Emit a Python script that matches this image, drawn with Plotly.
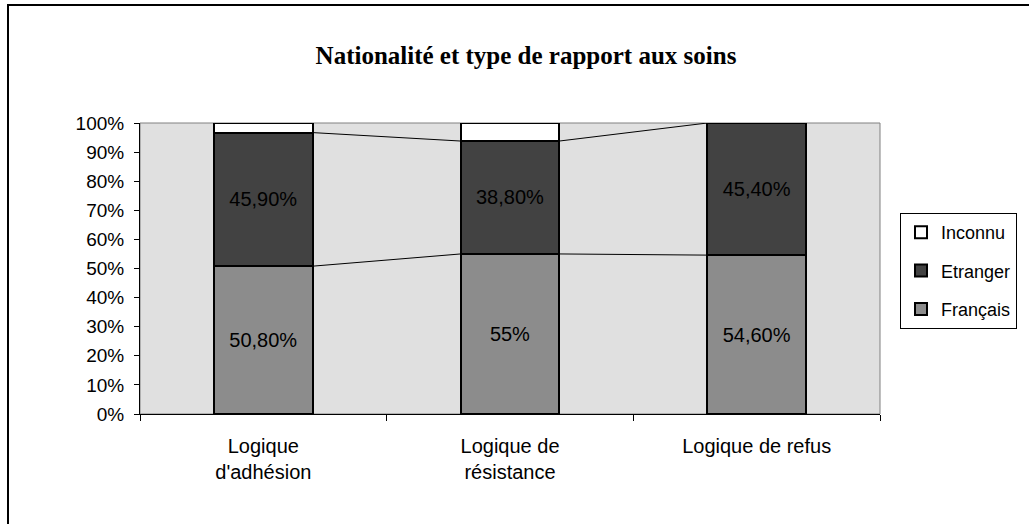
import plotly.graph_objects as go

categories = ["Logique<br>d'adhésion", "Logique de<br>résistance", "Logique de refus"]
francais = [50.8, 55.0, 54.6]
etranger = [45.9, 38.8, 45.4]
inconnu = [3.3, 6.2, 0.0]
francais_labels = ["50,80%", "55%", "54,60%"]
etranger_labels = ["45,90%", "38,80%", "45,40%"]
y_ticks = [0, 10, 20, 30, 40, 50, 60, 70, 80, 90, 100]

title = "Nationalité et type de rapport aux soins"

x = list(range(len(categories)))
BAR_W = 0.4
SANS = "Liberation Sans, Arial, sans-serif"

fig = go.Figure()

series = [
    ("Français", francais, francais_labels, "#8C8C8C", 3),
    ("Etranger", etranger, etranger_labels, "#424242", 2),
    ("Inconnu", inconnu, None, "#FFFFFF", 1),
]

for name, vals, labels, color, rank in series:
    fig.add_trace(go.Bar(
        x=x, y=vals, name=name, width=BAR_W,
        marker=dict(color=color, line=dict(color="#000000", width=2)),
        text=labels, textposition="inside" if labels else "none",
        insidetextanchor="middle",
        textfont=dict(family=SANS, size=20, color="#000000"),
        textangle=0,
        legendgroup=name, legendrank=rank,
        hoverinfo="skip",
    ))

# series lines connecting cumulative tops of segments between bars
cum = [0.0] * len(x)
for name, vals, labels, color, rank in series[:2]:
    cum = [c + v for c, v in zip(cum, vals)]
    lx, ly = [], []
    for i in range(len(x) - 1):
        lx += [x[i] + BAR_W / 2, x[i + 1] - BAR_W / 2, None]
        ly += [cum[i], cum[i + 1], None]
    fig.add_trace(go.Scatter(x=lx, y=ly, mode="lines",
                             line=dict(color="#000000", width=1),
                             showlegend=False, hoverinfo="skip"))

L, R, T, B = 140, 149, 123, 110
W, H = 1029, 524
pw, ph = W - L - R, H - T - B

def px_x(p):
    return (p - L) / pw

def px_y(p):
    return (H - B - p) / ph

fig.update_layout(
    width=W, height=H,
    margin=dict(l=L, r=R, t=T, b=B),
    barmode="stack",
    plot_bgcolor="#E0E0E0",
    paper_bgcolor="#FFFFFF",
    showlegend=True,
    title=dict(text="<b>" + title + "</b>", x=526 / W, xanchor="center",
               y=1 - 55 / H, yanchor="middle",
               font=dict(family="Liberation Serif, Times New Roman, serif", size=25, color="#000000")),
    legend=dict(x=px_x(900), y=px_y(213), xanchor="left", yanchor="top",
                traceorder="grouped", tracegroupgap=12,
                bgcolor="#FFFFFF", bordercolor="#000000", borderwidth=1,
                font=dict(family=SANS, size=18, color="#000000")),
    xaxis=dict(range=[-0.5, 2.5], tickmode="array", tickvals=x, ticktext=categories,
               ticks="", showgrid=False, zeroline=False,
               showline=True, linecolor="#000000", linewidth=1,
               ticklabelstandoff=14,
               tickfont=dict(family=SANS, size=20, color="#000000"),
               minor=dict(tickmode="array", tickvals=[-0.5, 0.5, 1.5, 2.5],
                          ticks="outside", ticklen=6, tickcolor="#000000", showgrid=False)),
    yaxis=dict(range=[0, 100], tickmode="array", tickvals=y_ticks,
               ticktext=[f"{v}%" for v in y_ticks],
               ticks="outside", ticklen=5, tickcolor="#000000",
               showgrid=False, zeroline=False,
               showline=True, linecolor="#000000", linewidth=1,
               ticklabelstandoff=6,
               tickfont=dict(family=SANS, size=19, color="#000000")),
    shapes=[
        dict(type="rect", xref="paper", yref="paper", x0=0, x1=1, y0=0, y1=1,
             line=dict(color="#808080", width=1), layer="below"),
        dict(type="rect", xref="paper", yref="paper",
             x0=px_x(8), y0=px_y(5), x1=px_x(1040), y1=px_y(540),
             line=dict(color="#000000", width=2), fillcolor="rgba(0,0,0,0)"),
    ],
)

fig.write_html("out.html", config={"displayModeBar": False},
               post_script="document.body.style.margin='0';document.body.style.padding='0';")
